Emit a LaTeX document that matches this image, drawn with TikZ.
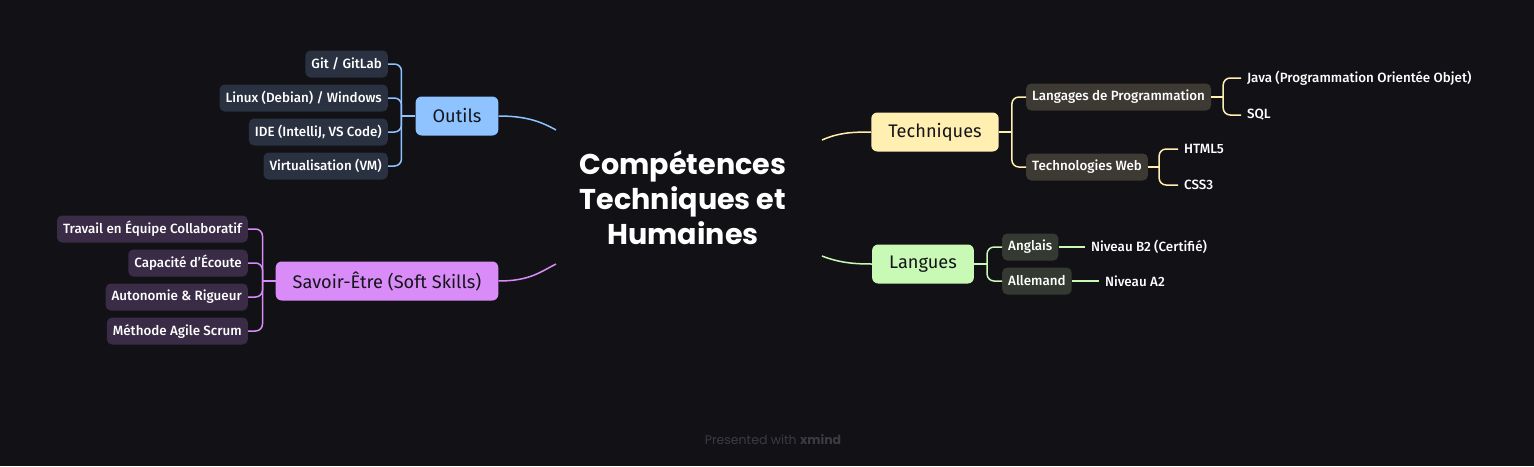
\documentclass[tikz,border=0pt]{standalone}
\usepackage{fontspec}
\setmainfont{Fira Sans}[UprightFont = * Medium, BoldFont = * Bold]
\newfontfamily\branchfont{Fira Sans}
\newfontfamily\titlefont{Poppins}

\definecolor{bg}{HTML}{121116}
\definecolor{ink}{HTML}{15141A}
\definecolor{outilsC}{HTML}{8EC3FF}
\definecolor{outilsSub}{HTML}{2A3140}
\definecolor{savoirC}{HTML}{D98CF7}
\definecolor{savoirSub}{HTML}{3A2B46}
\definecolor{techC}{HTML}{FFEFB0}
\definecolor{techSub}{HTML}{3D3A33}
\definecolor{langC}{HTML}{C8FAB6}
\definecolor{langSub}{HTML}{343A32}
\definecolor{footgray}{HTML}{3C3B42}

\tikzset{
	branch/.style = {rounded corners = 6pt, minimum height = 39pt, inner xsep = 17pt,
		font = \branchfont\fontsize{18.2}{21}\selectfont, text = ink},
	sub/.style = {rounded corners = 5pt, minimum height = 27pt, inner xsep = 6pt,
		font = \fontsize{13.4}{16}\selectfont, text = white},
	leaf/.style = {inner sep = 0pt, outer xsep = 6pt,
		font = \fontsize{13.4}{16}\selectfont, text = white},
	link/.style = {line width = 1.5pt, rounded corners = 7pt},
}

\begin{document}
\begin{tikzpicture}[x = 1pt, y = -1pt]
	\fill[bg] (0, 0) rectangle (1534, 466) ;

	\node[font = \titlefont\bfseries\fontsize{28.6}{35}\selectfont, text = white, align = center]
		(root) at (683, 198) {Compétences\\Techniques et\\Humaines} ;

	% Outils
	\node[branch, fill = outilsC] (outils) at (457, 116) {Outils} ;
	\node[sub, fill = outilsSub, anchor = east] (git) at (388, 64) {Git / GitLab} ;
	\node[sub, fill = outilsSub, anchor = east] (linux) at (388, 98) {Linux (Debian) / Windows} ;
	\node[sub, fill = outilsSub, anchor = east] (ide) at (388, 132) {IDE (IntelliJ, VS Code)} ;
	\node[sub, fill = outilsSub, anchor = east] (vm) at (388, 166) {Virtualisation (VM)} ;
	\coordinate (cO) at (556, 130) ;
	\draw[link, outilsC] (outils.east) .. controls (525, 116) and (540, 121) .. (cO) ;
	\draw[link, outilsC] (outils.west) -- ++(-14, 0) coordinate (jo) ;
	\foreach \c in {git, linux, ide, vm}
		\draw[link, outilsC] (jo) |- (\c.east) ;

	% Savoir-Etre
	\node[branch, fill = savoirC] (savoir) at (387, 281) {Savoir-Être (Soft Skills)} ;
	\node[sub, fill = savoirSub, anchor = east] (equipe) at (248, 229) {Travail en Équipe Collaboratif} ;
	\node[sub, fill = savoirSub, anchor = east] (ecoute) at (248, 263) {Capacité d'Écoute} ;
	\node[sub, fill = savoirSub, anchor = east] (autonomie) at (248, 297) {Autonomie \& Rigueur} ;
	\node[sub, fill = savoirSub, anchor = east] (scrum) at (248, 331) {Méthode Agile Scrum} ;
	\coordinate (cS) at (556, 264) ;
	\draw[link, savoirC] (savoir.east) .. controls (530, 281) and (540, 272) .. (cS) ;
	\draw[link, savoirC] (savoir.west) -- ++(-13, 0) coordinate (js) ;
	\foreach \c in {equipe, ecoute, autonomie, scrum}
		\draw[link, savoirC] (js) |- (\c.east) ;

	% Techniques
	\node[branch, fill = techC] (tech) at (935, 132) {Techniques} ;
	\node[sub, fill = techSub, anchor = west] (prog) at (1026, 97) {Langages de Programmation} ;
	\node[sub, fill = techSub, anchor = west] (web) at (1026, 167) {Technologies Web} ;
	\node[leaf, anchor = west] (java) at (1241, 78) {Java (Programmation Orientée Objet)} ;
	\node[leaf, anchor = west] (sql) at (1241, 115) {SQL} ;
	\node[leaf, anchor = west] (html) at (1178, 149) {HTML5} ;
	\node[leaf, anchor = west] (css) at (1178, 185) {CSS3} ;
	\coordinate (cT) at (822, 140) ;
	\draw[link, techC] (cT) .. controls (838, 133) and (850, 132) .. (tech.west) ;
	\draw[link, techC] (tech.east) -- ++(13, 0) coordinate (jt) ;
	\foreach \c in {prog, web}
		\draw[link, techC] (jt) |- (\c.west) ;
	\draw[link, techC] (prog.east) -- ++(12, 0) coordinate (jp) ;
	\foreach \c in {java, sql}
		\draw[link, techC] (jp) |- (\c.west) ;
	\draw[link, techC] (web.east) -- ++(11, 0) coordinate (jw) ;
	\foreach \c in {html, css}
		\draw[link, techC] (jw) |- (\c.west) ;

	% Langues
	\node[branch, fill = langC] (langues) at (923, 264) {Langues} ;
	\node[sub, fill = langSub, anchor = west] (anglais) at (1002, 247) {Anglais} ;
	\node[sub, fill = langSub, anchor = west] (allemand) at (1002, 281) {Allemand} ;
	\node[leaf, anchor = west] (b2) at (1085, 247) {Niveau B2 (Certifié)} ;
	\node[leaf, anchor = west] (a2) at (1099, 281) {Niveau A2} ;
	\coordinate (cL) at (822, 256) ;
	\draw[link, langC] (cL) .. controls (840, 263) and (855, 264) .. (langues.west) ;
	\draw[link, langC] (langues.east) -- ++(13, 0) coordinate (jg) ;
	\foreach \c in {anglais, allemand}
		\draw[link, langC] (jg) |- (\c.west) ;
	\draw[link, langC] (anglais) -- (b2) ;
	\draw[link, langC] (allemand) -- (a2) ;

	\node[font = \titlefont\fontsize{12.5}{14}\selectfont, text = footgray] (foot) at (773, 440)
		{Presented with \textbf{xmind}} ;
\end{tikzpicture}
\end{document}
